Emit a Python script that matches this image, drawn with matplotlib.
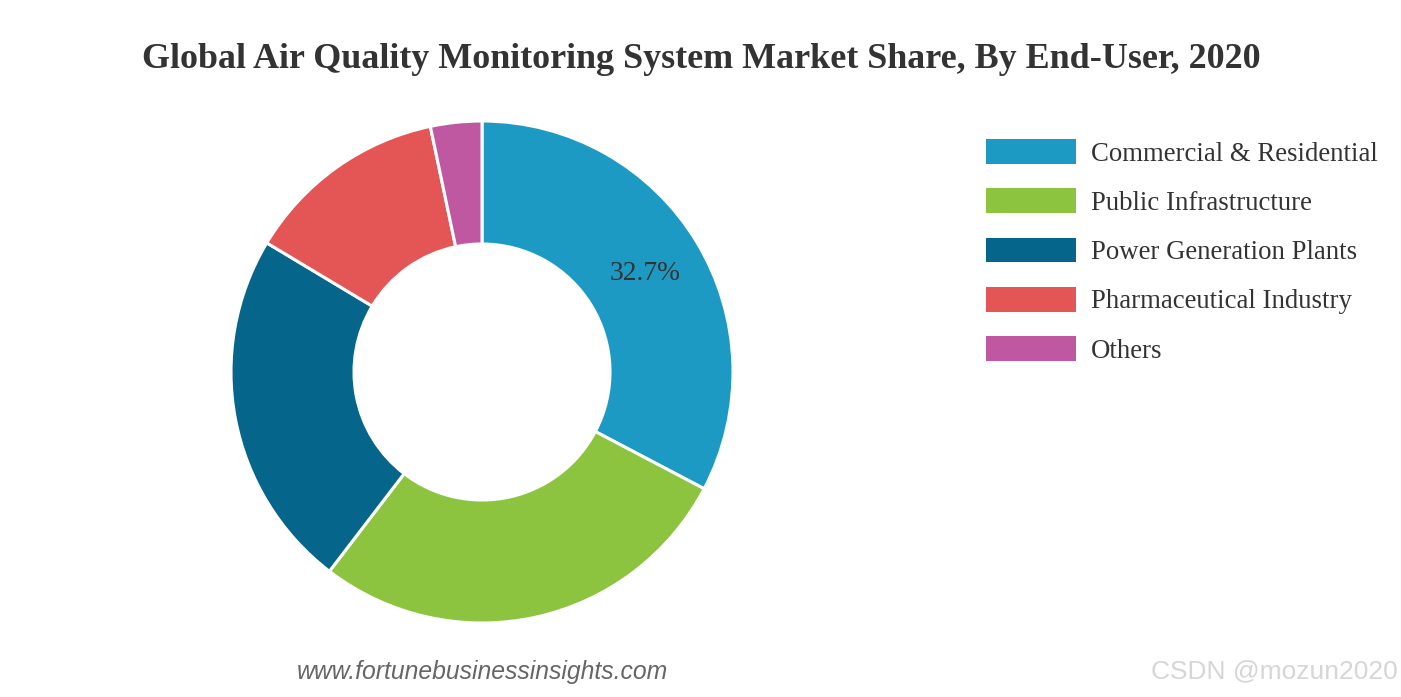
import matplotlib.pyplot as plt
import numpy as np

# data
labels = ['Commercial & Residential', 'Public Infrastructure', 'Power Generation Plants',
          'Pharmaceutical Industry', 'Others']
shares = [32.7, 27.7, 23.2, 13.1, 3.3]
colors = ['#1d9ac3', '#8cc43f', '#05658a', '#e35655', '#bf58a0']

fig = plt.figure(figsize=(14.01, 6.97), dpi=100)
W, H = 1401, 697

# donut: centre (482, 372) px, outer radius 251 px
cx, cy, r = 482, 372, 251
ax = fig.add_axes([(cx - r) / W, (H - cy - r) / H, 2 * r / W, 2 * r / H])
wedges, _ = ax.pie(shares, colors=colors, startangle=90, counterclock=False, radius=1,
                   wedgeprops=dict(width=0.49, edgecolor='white', linewidth=2.2))
ax.set_xlim(-1, 1)
ax.set_ylim(-1, 1)
ax.set_aspect('equal')
ax.axis('off')

# only the largest slice carries a label
w = wedges[0]
mid = np.deg2rad((w.theta1 + w.theta2) / 2)
ax.text(0.757 * np.cos(mid), 0.757 * np.sin(mid), f'{shares[0]}%', ha='center', va='center',
        fontsize=19.8, family='Liberation Serif', color='#333333')

fig.text(701 / W, 1 - 60 / H, 'Global Air Quality Monitoring System Market Share, By End-User, 2020',
         ha='center', va='center', fontsize=25.9, fontweight='bold', family='Liberation Serif',
         color='#333333')

leg = fig.legend(wedges, labels, loc='upper left', bbox_to_anchor=(986 / W, 1 - 139 / H),
                 frameon=False, prop={'family': 'Liberation Serif', 'size': 19.3},
                 handlelength=3.35, handleheight=1.05, handletextpad=0.55, labelspacing=0.81,
                 borderpad=0, borderaxespad=0)
for t in leg.get_texts():
    t.set_color('#333333')
for p in leg.get_patches():
    p.set_edgecolor('none')

fig.text(482 / W, 1 - 672 / H, 'www.fortunebusinessinsights.com', ha='center', va='center',
         fontsize=17.8, style='italic', family='Liberation Sans', color='#666666')
fig.text(1274 / W, 1 - 671 / H, 'CSDN @mozun2020', ha='center', va='center',
         fontsize=19, family='Liberation Sans', color='#d6d6d6')

fig.savefig('out.png', dpi=100, facecolor='white')
